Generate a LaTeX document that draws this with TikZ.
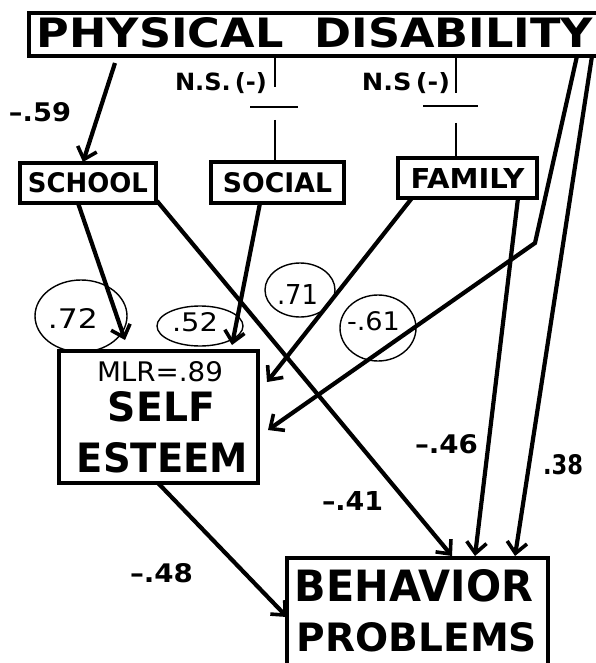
\documentclass[tikz,border=0pt]{standalone}
\usepackage{graphicx}
\usepackage{fontspec}
\setmainfont{DejaVu Sans}
\usetikzlibrary{arrows.meta}
\newcommand{\fitt}[3]{\resizebox{#1pt}{#2pt}{#3}}
\begin{document}
\begin{tikzpicture}[x=1pt,y=-1pt,
  box/.style={draw, line width=3.2pt, inner sep=0pt, rectangle},
  lbl/.style={inner sep=0pt},
  arr/.style={line width=4.2pt, -{Straight Barb[length=11pt,width=20pt,line width=3.6pt]}},
  thin/.style={line width=2pt},
  ring/.style={line width=1.4pt}]
\useasboundingbox (0,0) rectangle (596,663);
\fill[white] (0,0) rectangle (596,663);

% boxes
\node[box, minimum width=572pt, minimum height=43pt] (pd) at (315,34.5) {};
\node[lbl] (pdt) at (315,33) {\fitt{556}{30}{\bfseries PHYSICAL\ \ DISABILITY}};
\node[box, minimum width=136pt, minimum height=40pt] (school) at (88,183) {\fitt{120}{20}{\bfseries SCHOOL}};
\node[box, minimum width=133pt, minimum height=41pt] (social) at (277.5,182.5) {\fitt{109}{20}{\bfseries SOCIAL}};
\node[box, minimum width=139pt, minimum height=40pt] (family) at (467.5,178) {\fitt{114}{20}{\bfseries FAMILY}};
\node[box, minimum width=199pt, minimum height=132pt] (se) at (158.5,417) {};
\node[lbl] (mlr) at (160,372) {\fitt{126}{20}{MLR=.89}};
\node[lbl] (self) at (161.5,407) {\fitt{107}{30}{\bfseries SELF}};
\node[lbl] (esteem) at (162.5,458) {\fitt{171}{30}{\bfseries ESTEEM}};
\node[box, minimum width=261pt, minimum height=150pt] (bp) at (417.5,633) {};
\node[lbl] (beh) at (414,586) {\fitt{238}{32}{\bfseries BEHAVIOR}};
\node[lbl] (prob) at (417,637.5) {\fitt{240}{29}{\bfseries PROBLEMS}};

% N.S. links
\node[lbl] (ns1) at (221,83) {\fitt{92}{18}{\bfseries N.S.\,(-)}};
\node[lbl] (ns2) at (406,83) {\fitt{88}{18}{\bfseries N.S\,(-)}};
\coordinate (a1) at (275,56); \coordinate (a2) at (275,87);
\coordinate (b1) at (250,107); \coordinate (b2) at (298,107);
\coordinate (c1) at (275,120);
\draw[thin] (a1) -- (a2);
\draw[line width=2.8pt] (b1) -- (b2);
\draw[thin] (c1) -- (c1 |- social.north);
\coordinate (d1) at (456,56); \coordinate (d2) at (456,93);
\coordinate (e1) at (423,106); \coordinate (e2) at (478,106);
\coordinate (f1) at (456,123);
\draw[thin] (d1) -- (d2);
\draw[line width=2.8pt] (e1) -- (e2);
\draw[thin] (f1) -- (f1 |- family.north);

% arrows
\coordinate (p1) at (115,63); \coordinate (p1e) at (83,162);
\draw[arr] (p1) -- (p1e);
\coordinate (s1) at (78,203); \coordinate (s1e) at (125,340);
\draw[arr] (s1) -- (s1e);
\coordinate (o1) at (260,203); \coordinate (o1e) at (232,345);
\draw[arr] (o1) -- (o1e);
\coordinate (s2) at (157,201); \coordinate (s2e) at (452,556);
\draw[arr] (s2) -- (s2e);
\coordinate (f2) at (412,198); \coordinate (f2e) at (267,382);
\draw[arr] (f2) -- (f2e);
\coordinate (q1) at (577,56); \coordinate (qb) at (535,243); \coordinate (q1e) at (268,430);
\draw[arr, line join=miter] (q1) -- (qb) -- (q1e);
\coordinate (f3) at (518,198); \coordinate (f3e) at (475,556);
\draw[arr] (f3) -- (f3e);
\coordinate (q2) at (592,56); \coordinate (q2e) at (515,556);
\draw[arr] (q2) -- (q2e);
\coordinate (u1) at (158,483); \coordinate (u1e) at (287,617);
\draw[arr] (u1) -- (u1e);

% coefficients
\node[lbl] (l59) at (40,112) {\fitt{62}{19}{\bfseries\textendash.59}};
\node[lbl] (l46) at (446.5,444) {\fitt{63}{19}{\bfseries\textendash.46}};
\node[lbl] (l38) at (563,465) {\fitt{40}{20}{\bfseries .38}};
\node[lbl] (l41) at (352.5,501) {\fitt{61}{19}{\bfseries\textendash.41}};
\node[lbl] (l48) at (161.5,573) {\fitt{63}{19}{\bfseries\textendash.48}};

% circled coefficients
\draw[ring] (81,316) ellipse [x radius=46, y radius=36];
\node[lbl] (l72) at (73,318) {\fitt{50}{20}{.72}};
\draw[ring] (200,326) ellipse [x radius=43, y radius=20];
\node[lbl] (l52) at (195,322) {\fitt{46}{19}{.52}};
\draw[ring] (300,290) ellipse [x radius=35, y radius=27];
\node[lbl] (l71) at (297.5,294) {\fitt{41}{20}{.71}};
\draw[ring] (378,328) ellipse [x radius=38, y radius=33];
\node[lbl] (l61) at (373.5,321) {\fitt{53}{19}{-.61}};
\end{tikzpicture}
\end{document}
